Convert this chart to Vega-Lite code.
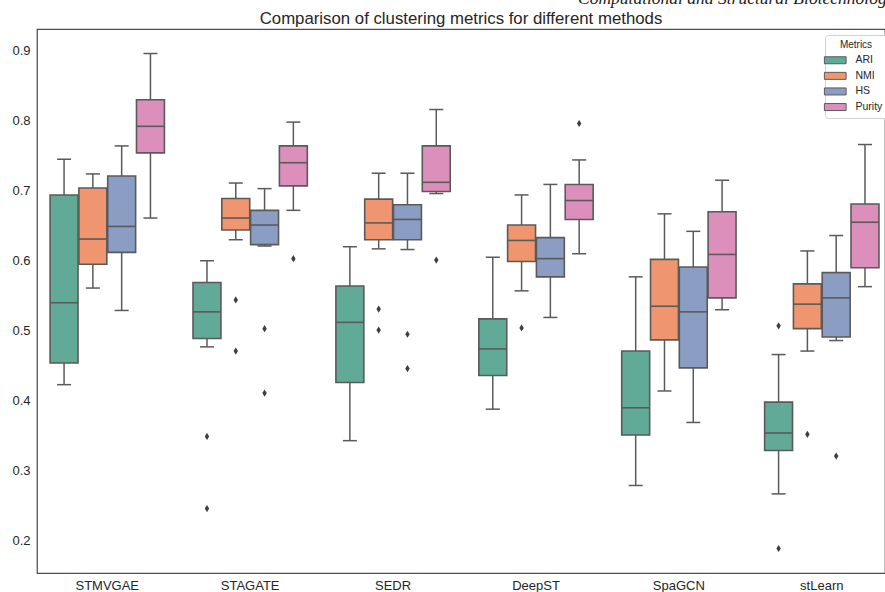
{
  "$schema": "https://vega.github.io/schema/vega-lite/v6.json",
  "width": 848,
  "height": 544,
  "autosize": {"type": "none"},
  "padding": {"left": 37, "top": 29, "right": 0, "bottom": 19},
  "background": "white",
  "title": {
    "text": "Comparison of clustering metrics for different methods",
    "font": "Liberation Sans",
    "fontSize": 16.8,
    "fontWeight": "normal",
    "color": "#262626",
    "anchor": "middle",
    "frame": "group",
    "baseline": "alphabetic",
    "offset": -50.5
  },
  "config": {
    "view": {"stroke": "#4d4d4d", "strokeWidth": 1.25},
    "font": "Liberation Sans"
  },
  "datasets": {
    "boxes": [
      {"method": "STMVGAE", "metric": "ARI", "lo": 0.422, "q1": 0.453, "med": 0.539, "q3": 0.693, "hi": 0.744},
      {"method": "STMVGAE", "metric": "NMI", "lo": 0.560, "q1": 0.594, "med": 0.630, "q3": 0.703, "hi": 0.723},
      {"method": "STMVGAE", "metric": "HS", "lo": 0.528, "q1": 0.611, "med": 0.648, "q3": 0.720, "hi": 0.763},
      {"method": "STMVGAE", "metric": "Purity", "lo": 0.660, "q1": 0.753, "med": 0.791, "q3": 0.829, "hi": 0.895},
      {"method": "STAGATE", "metric": "ARI", "lo": 0.476, "q1": 0.488, "med": 0.526, "q3": 0.568, "hi": 0.599},
      {"method": "STAGATE", "metric": "NMI", "lo": 0.629, "q1": 0.643, "med": 0.660, "q3": 0.688, "hi": 0.710},
      {"method": "STAGATE", "metric": "HS", "lo": 0.620, "q1": 0.622, "med": 0.650, "q3": 0.671, "hi": 0.702},
      {"method": "STAGATE", "metric": "Purity", "lo": 0.671, "q1": 0.706, "med": 0.739, "q3": 0.763, "hi": 0.797},
      {"method": "SEDR", "metric": "ARI", "lo": 0.342, "q1": 0.425, "med": 0.511, "q3": 0.563, "hi": 0.619},
      {"method": "SEDR", "metric": "NMI", "lo": 0.616, "q1": 0.629, "med": 0.653, "q3": 0.687, "hi": 0.724},
      {"method": "SEDR", "metric": "HS", "lo": 0.615, "q1": 0.629, "med": 0.658, "q3": 0.679, "hi": 0.724},
      {"method": "SEDR", "metric": "Purity", "lo": 0.695, "q1": 0.698, "med": 0.711, "q3": 0.763, "hi": 0.815},
      {"method": "DeepST", "metric": "ARI", "lo": 0.387, "q1": 0.435, "med": 0.473, "q3": 0.516, "hi": 0.604},
      {"method": "DeepST", "metric": "NMI", "lo": 0.556, "q1": 0.598, "med": 0.628, "q3": 0.650, "hi": 0.693},
      {"method": "DeepST", "metric": "HS", "lo": 0.518, "q1": 0.576, "med": 0.602, "q3": 0.632, "hi": 0.708},
      {"method": "DeepST", "metric": "Purity", "lo": 0.609, "q1": 0.658, "med": 0.685, "q3": 0.708, "hi": 0.743},
      {"method": "SpaGCN", "metric": "ARI", "lo": 0.278, "q1": 0.350, "med": 0.389, "q3": 0.470, "hi": 0.576},
      {"method": "SpaGCN", "metric": "NMI", "lo": 0.413, "q1": 0.486, "med": 0.534, "q3": 0.601, "hi": 0.666},
      {"method": "SpaGCN", "metric": "HS", "lo": 0.368, "q1": 0.446, "med": 0.526, "q3": 0.590, "hi": 0.641},
      {"method": "SpaGCN", "metric": "Purity", "lo": 0.529, "q1": 0.546, "med": 0.608, "q3": 0.669, "hi": 0.714},
      {"method": "stLearn", "metric": "ARI", "lo": 0.266, "q1": 0.328, "med": 0.353, "q3": 0.397, "hi": 0.465},
      {"method": "stLearn", "metric": "NMI", "lo": 0.470, "q1": 0.502, "med": 0.537, "q3": 0.566, "hi": 0.613},
      {"method": "stLearn", "metric": "HS", "lo": 0.485, "q1": 0.490, "med": 0.546, "q3": 0.582, "hi": 0.635},
      {"method": "stLearn", "metric": "Purity", "lo": 0.562, "q1": 0.589, "med": 0.654, "q3": 0.680, "hi": 0.765}
    ],
    "outliers": [
      {"method": "STAGATE", "metric": "ARI", "value": 0.348},
      {"method": "STAGATE", "metric": "ARI", "value": 0.245},
      {"method": "STAGATE", "metric": "NMI", "value": 0.543},
      {"method": "STAGATE", "metric": "NMI", "value": 0.470},
      {"method": "STAGATE", "metric": "HS", "value": 0.502},
      {"method": "STAGATE", "metric": "HS", "value": 0.410},
      {"method": "STAGATE", "metric": "Purity", "value": 0.602},
      {"method": "SEDR", "metric": "NMI", "value": 0.530},
      {"method": "SEDR", "metric": "NMI", "value": 0.500},
      {"method": "SEDR", "metric": "HS", "value": 0.494},
      {"method": "SEDR", "metric": "HS", "value": 0.445},
      {"method": "SEDR", "metric": "Purity", "value": 0.600},
      {"method": "DeepST", "metric": "NMI", "value": 0.503},
      {"method": "DeepST", "metric": "Purity", "value": 0.795},
      {"method": "stLearn", "metric": "ARI", "value": 0.506},
      {"method": "stLearn", "metric": "ARI", "value": 0.188},
      {"method": "stLearn", "metric": "NMI", "value": 0.351},
      {"method": "stLearn", "metric": "HS", "value": 0.320}
    ],
    "header": [
      {"label": "Computational and Structural Biotechnology Journal"}
    ]
  },
  "encoding": {
    "x": {
      "field": "method",
      "type": "nominal",
      "sort": ["STMVGAE", "STAGATE", "SEDR", "DeepST", "SpaGCN", "stLearn"],
      "scale": {"paddingInner": 0.2, "paddingOuter": 0.067, "align": 0.684},
      "axis": {
        "title": null,
        "labelAngle": 0,
        "domain": false,
        "ticks": false,
        "labelPadding": 6,
        "labelFontSize": 13,
        "labelColor": "#262626",
        "labelFont": "Liberation Sans"
      }
    },
    "xOffset": {
      "field": "metric",
      "type": "nominal",
      "sort": ["ARI", "NMI", "HS", "Purity"],
      "scale": {"paddingInner": 0.03, "paddingOuter": 0}
    }
  },
  "layer": [
    {
      "data": {"name": "boxes"},
      "mark": {"type": "rule", "stroke": "#5a5a5a", "strokeWidth": 1.5},
      "encoding": {
        "y": {
          "field": "lo",
          "type": "quantitative",
          "scale": {"domain": [0.153, 0.93], "nice": false, "zero": false},
          "axis": {
            "title": null,
            "values": [0.2, 0.3, 0.4, 0.5, 0.6, 0.7, 0.8, 0.9],
            "format": ".1f",
            "domain": false,
            "ticks": false,
            "grid": false,
            "labelPadding": 7,
            "labelFontSize": 13,
            "labelColor": "#262626",
            "labelFont": "Liberation Sans"
          }
        },
        "y2": {"field": "hi"}
      }
    },
    {
      "data": {"name": "boxes"},
      "mark": {"type": "bar", "stroke": "#5a5a5a", "strokeWidth": 1.6, "opacity": 1},
      "encoding": {
        "y": {"field": "q1", "type": "quantitative"},
        "y2": {"field": "q3"},
        "fill": {
          "field": "metric",
          "type": "nominal",
          "scale": {
            "domain": ["ARI", "NMI", "HS", "Purity"],
            "range": ["#62aa98", "#ef9670", "#8b9dc2", "#dc8fbb"]
          },
          "legend": {
            "title": "Metrics",
            "orient": "none",
            "legendX": 788,
            "legendY": 6,
            "fillColor": "white",
            "strokeColor": "#d0d0d0",
            "cornerRadius": 3,
            "padding": 5,
            "titleFontSize": 10,
            "titleFontWeight": "normal",
            "titleColor": "#262626",
            "titleAnchor": "middle",
            "titleFont": "Liberation Sans",
            "labelFontSize": 10.5,
            "labelColor": "#262626",
            "labelFont": "Liberation Sans",
            "symbolType": "M-3.1,-1H3.1V1H-3.1Z",
            "symbolSize": 49,
            "symbolStrokeColor": "#5a5a5a",
            "symbolStrokeWidth": 1,
            "symbolOpacity": 1,
            "labelOffset": 15,
            "rowPadding": 3.6
          }
        }
      }
    },
    {
      "data": {"name": "boxes"},
      "mark": {"type": "tick", "color": "#5a5a5a", "thickness": 1.6, "size": 28, "opacity": 1},
      "encoding": {"y": {"field": "med", "type": "quantitative"}}
    },
    {
      "data": {"name": "boxes"},
      "mark": {"type": "tick", "color": "#5a5a5a", "thickness": 1.5, "size": 14, "opacity": 1},
      "encoding": {"y": {"field": "lo", "type": "quantitative"}}
    },
    {
      "data": {"name": "boxes"},
      "mark": {"type": "tick", "color": "#5a5a5a", "thickness": 1.5, "size": 14, "opacity": 1},
      "encoding": {"y": {"field": "hi", "type": "quantitative"}}
    },
    {
      "data": {"name": "outliers"},
      "mark": {"type": "point", "shape": "M0,-1L0.62,0L0,1L-0.62,0Z", "filled": true, "color": "#3f3f3f", "size": 52, "opacity": 1},
      "encoding": {"y": {"field": "value", "type": "quantitative"}}
    },
    {
      "data": {"name": "header"},
      "mark": {"type": "text", "align": "left", "baseline": "alphabetic", "font": "Liberation Serif", "fontStyle": "italic", "fontSize": 17.5, "color": "#1a1a1a", "dx": 42},
      "encoding": {
        "x": {"datum": "DeepST"},
        "xOffset": null,
        "y": {"datum": 0.965},
        "text": {"field": "label"}
      }
    }
  ]
}
